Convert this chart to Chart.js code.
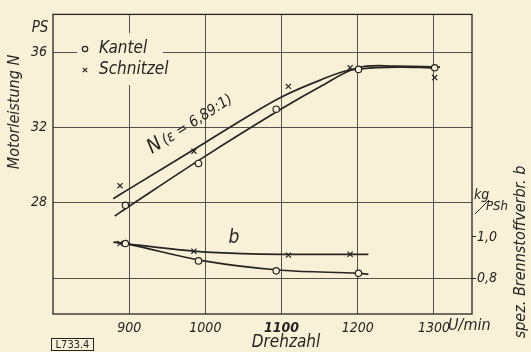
<!DOCTYPE html>
<html>
<head>
<meta charset="utf-8">
<script src="https://cdn.jsdelivr.net/npm/chart.js@4.4.1/dist/chart.umd.min.js"></script>
<style>
  html, body { margin: 0; padding: 0; background: #f8f1d8; }
  #wrap { width: 531px; height: 352px; position: relative; }
</style>
</head>
<body>
<div id="wrap"><canvas id="c" width="531" height="352"></canvas></div>
<script>
// Measured runs: engine speed (U/min), power N (PS), specific consumption b (kg/PSh)
const kantelRpm = [895, 991, 1093, 1201, 1301];
const kantelN = [27.87, 30.09, 32.97, 35.08, 35.17];
const kantelB = [0.968, 0.884, 0.836, 0.824];

const schnitzelRpm = [888, 985, 1109, 1190, 1301];
const schnitzelN = [28.91, 30.74, 34.18, 35.17, 34.65];
const schnitzelB = [0.968, 0.931, 0.912, 0.916];

// Faired curves through the measurements
const kantelCurveRpm = [881, 900, 1000, 1100, 1150, 1200, 1250, 1308];
const kantelCurveN = [27.30, 27.82, 30.48, 32.99, 34.15, 35.17, 35.26, 35.20];
const schnitzelCurveRpm = [879, 900, 1000, 1050, 1100, 1150, 1190, 1250, 1300];
const schnitzelCurveN = [28.22, 28.74, 31.20, 32.45, 33.62, 34.50, 35.05, 35.20, 35.16];

const kantelBCurveRpm = [881, 900, 1000, 1100, 1200, 1214];
const kantelBCurve = [0.975, 0.964, 0.883, 0.839, 0.825, 0.820];
const schnitzelBCurveRpm = [879, 985, 1050, 1100, 1214];
const schnitzelBCurve = [0.974, 0.931, 0.919, 0.916, 0.916];

// Axis ticks
const rpmTicks = [900, 1000, 1100, 1200, 1300];
const powerTicks = [24, 28, 32, 36];
const powerLabels = ['', '28', '32', '36'];
const consumptionTicks = [0.8, 1.0];
const consumptionLabels = ['0,8', '1,0'];

const PAPER = '#f8f1d8';
const INK = '#262422';
const GRID = 'rgba(45,42,40,0.8)';
const FONT = "'DejaVu Sans Condensed', 'Liberation Sans', sans-serif";

function pts(xs, ys) { return ys.map((y, i) => ({ x: xs[i], y })); }

function curve(label, data, axis) {
  return {
    label, data, yAxisID: axis, showLine: true, pointRadius: 0,
    borderColor: INK, borderWidth: 1.7, tension: 0.35,
    fill: false, order: 2
  };
}
function marks(label, data, axis, style) {
  return {
    label, data, yAxisID: axis, showLine: false,
    pointStyle: style, pointRadius: style === 'circle' ? 3.2 : 3.6,
    pointBorderWidth: 1.2, pointBorderColor: INK, pointBackgroundColor: PAPER,
    order: 1
  };
}

function txt(ctx, s, x, y, size, opts = {}) {
  ctx.save();
  ctx.font = `${opts.bold ? 'bold ' : ''}${opts.upright ? '' : 'italic '}${size}px ${FONT}`;
  ctx.fillStyle = INK;
  ctx.textAlign = opts.align || 'left';
  ctx.textBaseline = opts.base || 'middle';
  ctx.translate(x, y);
  if (opts.rot) ctx.rotate(opts.rot);
  ctx.fillText(s, 0, 0);
  ctx.restore();
}

const sheet = {
  id: 'sheet',
  beforeDraw(chart) {
    const ctx = chart.ctx;
    ctx.save();
    ctx.fillStyle = PAPER;
    ctx.fillRect(0, 0, chart.width, chart.height);
    ctx.restore();
  },
  beforeDatasetsDraw(chart) {
    const { ctx, chartArea: a } = chart;
    ctx.save();
    // cleared field behind the key
    ctx.fillStyle = PAPER;
    ctx.fillRect(77, 33, 86, 52);
    // frame
    ctx.strokeStyle = INK;
    ctx.lineWidth = 1.3;
    ctx.strokeRect(a.left, a.top, a.right - a.left, a.bottom - a.top);
    ctx.restore();
  },
  afterDraw(chart) {
    const ctx = chart.ctx;
    const ds = chart.data.datasets;
    // key
    [[ds[4], 'Kantel', 49], [ds[5], 'Schnitzel', 70]].forEach(([d, name, y]) => {
      ctx.save();
      ctx.strokeStyle = INK; ctx.fillStyle = PAPER; ctx.lineWidth = 1.2;
      Chart.helpers.drawPoint(ctx, { pointStyle: d.pointStyle, radius: d.pointRadius * 0.85, borderWidth: 1.2 }, 85, y);
      ctx.restore();
      txt(ctx, name, 99, y, 17);
    });
    // axis words
    txt(ctx, 'PS', 40, 28, 15, { align: 'center' });
    txt(ctx, 'U/min', 448, 326, 16);
    txt(ctx, 'Drehzahl', 286, 343, 17, { align: 'center' });
    txt(ctx, 'Motorleistung N', 15, 112, 16, { align: 'center', rot: -Math.PI / 2 });
    txt(ctx, 'spez. Brennstoffverbr. b', 521, 252, 16, { align: 'center', rot: -Math.PI / 2 });
    // consumption unit
    txt(ctx, 'kg', 474, 195, 14);
    txt(ctx, 'PSh', 486, 207, 13);
    ctx.save();
    ctx.strokeStyle = INK; ctx.lineWidth = 1;
    ctx.beginPath(); ctx.moveTo(475, 214); ctx.lineTo(489, 200); ctx.stroke();
    ctx.restore();
    // curve names
    const ang = -32.8 * Math.PI / 180;
    txt(ctx, 'N', 152, 154, 20, { base: 'alphabetic', rot: ang });
    txt(ctx, '(ε = 6,89:1)', 152 + 16 * Math.cos(ang), 154 + 16 * Math.sin(ang), 15, { base: 'alphabetic', rot: ang });
    txt(ctx, 'b', 234, 238, 19, { align: 'center' });
    // drawing number
    ctx.save();
    ctx.strokeStyle = INK; ctx.lineWidth = 1;
    ctx.strokeRect(51.5, 338.5, 42, 12);
    ctx.restore();
    txt(ctx, 'L733.4', 72.5, 345, 11, { align: 'center', upright: true });
  }
};

new Chart(document.getElementById('c'), {
  type: 'scatter',
  data: {
    datasets: [
      curve('N Kantel', pts(kantelCurveRpm, kantelCurveN), 'y'),
      curve('N Schnitzel', pts(schnitzelCurveRpm, schnitzelCurveN), 'y'),
      curve('b Kantel', pts(kantelBCurveRpm, kantelBCurve), 'yb'),
      curve('b Schnitzel', pts(schnitzelBCurveRpm, schnitzelBCurve), 'yb'),
      marks('Kantel', pts(kantelRpm, kantelN), 'y', 'circle'),
      marks('Schnitzel', pts(schnitzelRpm, schnitzelN), 'y', 'crossRot'),
      marks('Kantel b', pts(kantelRpm, kantelB), 'yb', 'circle'),
      marks('Schnitzel b', pts(schnitzelRpm, schnitzelB), 'yb', 'crossRot')
    ]
  },
  options: {
    responsive: false,
    animation: false,
    layout: { padding: { top: 9, left: 0, right: 0, bottom: 0 } },
    plugins: { legend: { display: false }, tooltip: { enabled: false } },
    scales: {
      x: {
        type: 'linear', min: 800, max: 1350,
        afterBuildTicks: s => { s.ticks = rpmTicks.map(v => ({ value: v })); },
        afterFit: s => { s.height = 38; },
        border: { display: false },
        grid: { color: GRID, lineWidth: 1, drawTicks: false },
        ticks: {
          padding: 6, color: INK,
          font: c => ({ family: FONT, size: 14, style: 'italic', weight: c.tick && c.tick.value === 1100 ? 'bold' : 'normal' }),
          callback: v => String(v)
        }
      },
      y: {
        position: 'left', min: 22.1, max: 38.0,
        afterBuildTicks: s => { s.ticks = powerTicks.map(v => ({ value: v })); },
        afterFit: s => { s.width = 53; },
        border: { display: false },
        grid: { color: GRID, lineWidth: 1, drawTicks: false },
        ticks: {
          padding: 6, color: INK,
          font: { family: FONT, size: 14, style: 'italic' },
          callback: v => powerLabels[powerTicks.indexOf(v)]
        }
      },
      yb: {
        position: 'right', min: 0.628, max: 2.073,
        afterBuildTicks: s => { s.ticks = consumptionTicks.map(v => ({ value: v })); },
        afterFit: s => { s.width = 59; },
        border: { display: false },
        grid: { drawOnChartArea: false, drawTicks: true, tickLength: 4, color: INK, lineWidth: 1 },
        ticks: {
          padding: 1, color: INK,
          font: { family: FONT, size: 14, style: 'italic' },
          callback: v => consumptionLabels[consumptionTicks.indexOf(v)]
        }
      }
    }
  },
  plugins: [sheet]
});
</script>
</body>
</html>
